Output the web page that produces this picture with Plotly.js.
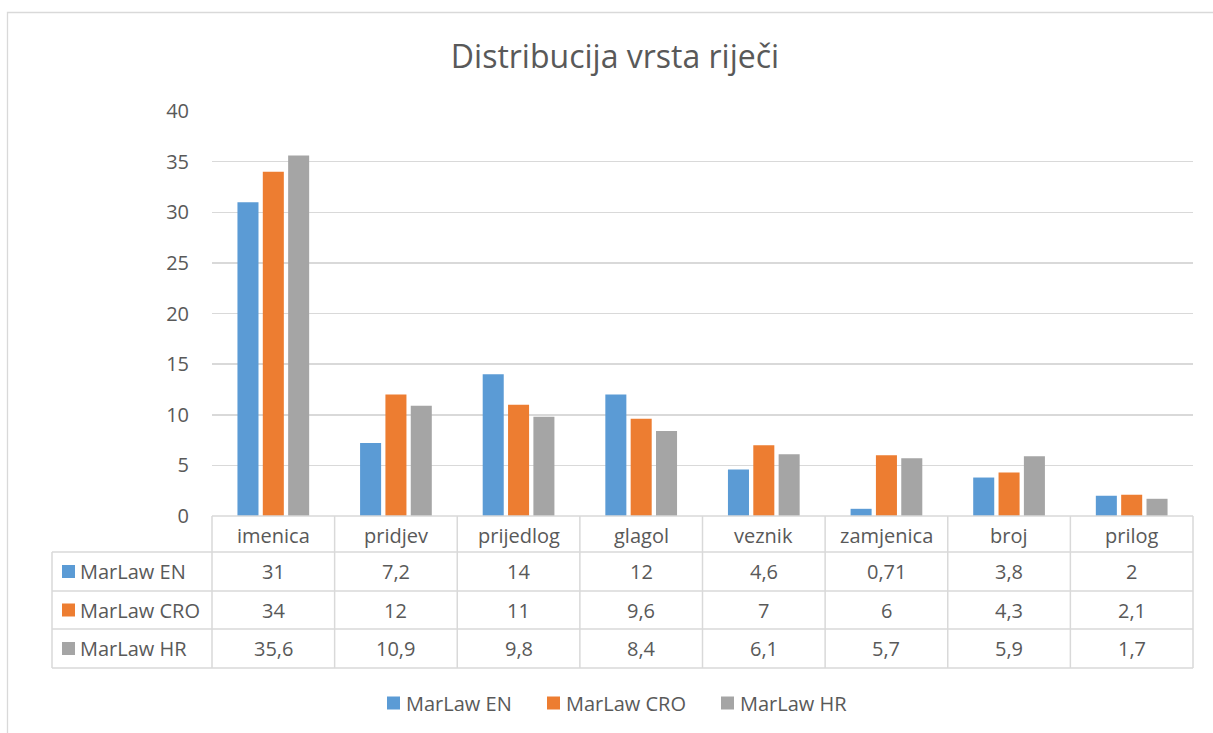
<!DOCTYPE html>
<html>
<head>
<meta charset="utf-8">
<script src="https://cdn.plot.ly/plotly-3.0.1.min.js"></script>
<style>
html,body{margin:0;padding:0;background:#fff;}
#chart{width:1213px;height:733px;}
</style>
</head>
<body>
<div id="chart"></div>
<script>
// ---- data ----
const categories = ["imenica","pridjev","prijedlog","glagol","veznik","zamjenica","broj","prilog"];
const seriesNames = ["MarLaw EN","MarLaw CRO","MarLaw HR"];
const marlawEN  = [31, 7.2, 14, 12, 4.6, 0.71, 3.8, 2];
const marlawCRO = [34, 12, 11, 9.6, 7, 6, 4.3, 2.1];
const marlawHR  = [35.6, 10.9, 9.8, 8.4, 6.1, 5.7, 5.9, 1.7];
const yTicks = [0,5,10,15,20,25,30,35,40];
const chartTitle = "Distribucija vrsta riječi";

// ---- styling ----
const colors = ["#5B9BD5","#ED7D31","#A5A5A5"];
const FONT = "'Open Sans', sans-serif";
const TXT = "#595959";
const GRID = "#D9D9D9";
const FS = 20;

// pixel geometry of plot area
const L = 212, R = 1193, T = 111, B = 516, W = 1213, H = 733;
const pxX = p => (p - L) / (R - L);
const pxY = p => (B - p) / (B - T);
const hY = h => h / (B - T);
const hX = w => w / (R - L);

const allSeries = [marlawEN, marlawCRO, marlawHR];
const traces = allSeries.map((vals, i) => ({
  type: "bar",
  name: seriesNames[i],
  x: categories,
  y: vals,
  marker: {color: colors[i], line: {width: 0}},
  hoverinfo: "x+y+name"
}));

const fmt = v => String(v).replace(".", ",");

// table geometry
const rowLines = [516, 552, 591, 629, 668];
const leftX = 52;
const shapes = [];
const annotations = [];

// outer chart frame
shapes.push({type:"rect", xref:"paper", yref:"paper",
  x0: pxX(7.5), x1: pxX(1240), y0: pxY(760), y1: pxY(12.5),
  line:{color:GRID, width:1.3}, fillcolor:"rgba(0,0,0,0)", layer:"below"});

// horizontal lines of table
rowLines.forEach((y, k) => {
  shapes.push({type:"line", xref:"paper", yref:"paper",
    x0: k === 0 ? 0 : pxX(leftX), x1: 1, y0: pxY(y), y1: pxY(y),
    line:{color:GRID, width:1.5}});
});
// vertical lines
shapes.push({type:"line", xref:"paper", yref:"paper",
  x0: pxX(leftX), x1: pxX(leftX), y0: pxY(rowLines[1]), y1: pxY(rowLines[4]),
  line:{color:GRID, width:1.5}});
for (let k = 0; k <= categories.length; k++) {
  const xp = k / categories.length;
  shapes.push({type:"line", xref:"paper", yref:"paper",
    x0: xp, x1: xp, y0: pxY(rowLines[0]), y1: pxY(rowLines[4]),
    line:{color:GRID, width:1.5}});
}

// header row: category names
categories.forEach(c => {
  annotations.push({xref:"x", yref:"paper", x:c, y:pxY((rowLines[0]+rowLines[1])/2 + 1),
    text:c, showarrow:false, xanchor:"center", yanchor:"middle",
    font:{family:FONT, size:FS, color:TXT}});
});
// data rows
allSeries.forEach((vals, i) => {
  const yc = pxY((rowLines[i+1] + rowLines[i+2]) / 2);
  // legend key square
  shapes.push({type:"rect", xref:"paper", yref:"paper",
    x0: pxX(62), x1: pxX(75), y0: yc - hY(6.5), y1: yc + hY(6.5),
    fillcolor: colors[i], line:{width:0}});
  annotations.push({xref:"paper", yref:"paper", x:pxX(78), y:yc,
    text:seriesNames[i], showarrow:false, xanchor:"left", yanchor:"middle",
    font:{family:FONT, size:FS, color:TXT}});
  vals.forEach((v, j) => {
    annotations.push({xref:"x", yref:"paper", x:categories[j], y:yc,
      text:fmt(v), showarrow:false, xanchor:"center", yanchor:"middle",
      font:{family:FONT, size:FS, color:TXT}});
  });
});

// bottom legend (Excel-style: square key close to label)
const legendKeyX = [387, 547, 721];
const legendY = 703;
seriesNames.forEach((n, i) => {
  shapes.push({type:"rect", xref:"paper", yref:"paper",
    x0: pxX(legendKeyX[i]), x1: pxX(legendKeyX[i] + 13),
    y0: pxY(legendY) - hY(6.5), y1: pxY(legendY) + hY(6.5),
    fillcolor: colors[i], line:{width:0}});
  annotations.push({xref:"paper", yref:"paper", x:pxX(legendKeyX[i] + 17), y:pxY(legendY),
    text:n, showarrow:false, xanchor:"left", yanchor:"middle",
    font:{family:FONT, size:FS, color:TXT}});
});

const layout = {
  width: W, height: H,
  margin: {l: L, r: W - R, t: T, b: H - B, pad: 0},
  paper_bgcolor: "#fff", plot_bgcolor: "#fff",
  title: {text: chartTitle, x: 0.507, xanchor: "center", y: 1 - 57/H, yanchor: "middle",
    font: {family: FONT, size: 32, color: TXT}},
  barmode: "group",
  bargap: 0.38,
  bargroupgap: 0.17,
  xaxis: {type: "category", showticklabels: false, ticks: "", showgrid: false,
    zeroline: false, showline: false, fixedrange: true},
  yaxis: {range: [0, 40], tickvals: yTicks, ticktext: yTicks.map(String),
    showgrid: true, gridcolor: GRID, gridwidth: 1.5, zeroline: false, showline: false,
    ticks: "", ticklabelstandoff: 22,
    tickfont: {family: FONT, size: FS, color: TXT}, fixedrange: true},
  showlegend: false,
  shapes: shapes,
  annotations: annotations
};

Plotly.newPlot("chart", traces, layout, {displayModeBar: false, staticPlot: true});
</script>
</body>
</html>
